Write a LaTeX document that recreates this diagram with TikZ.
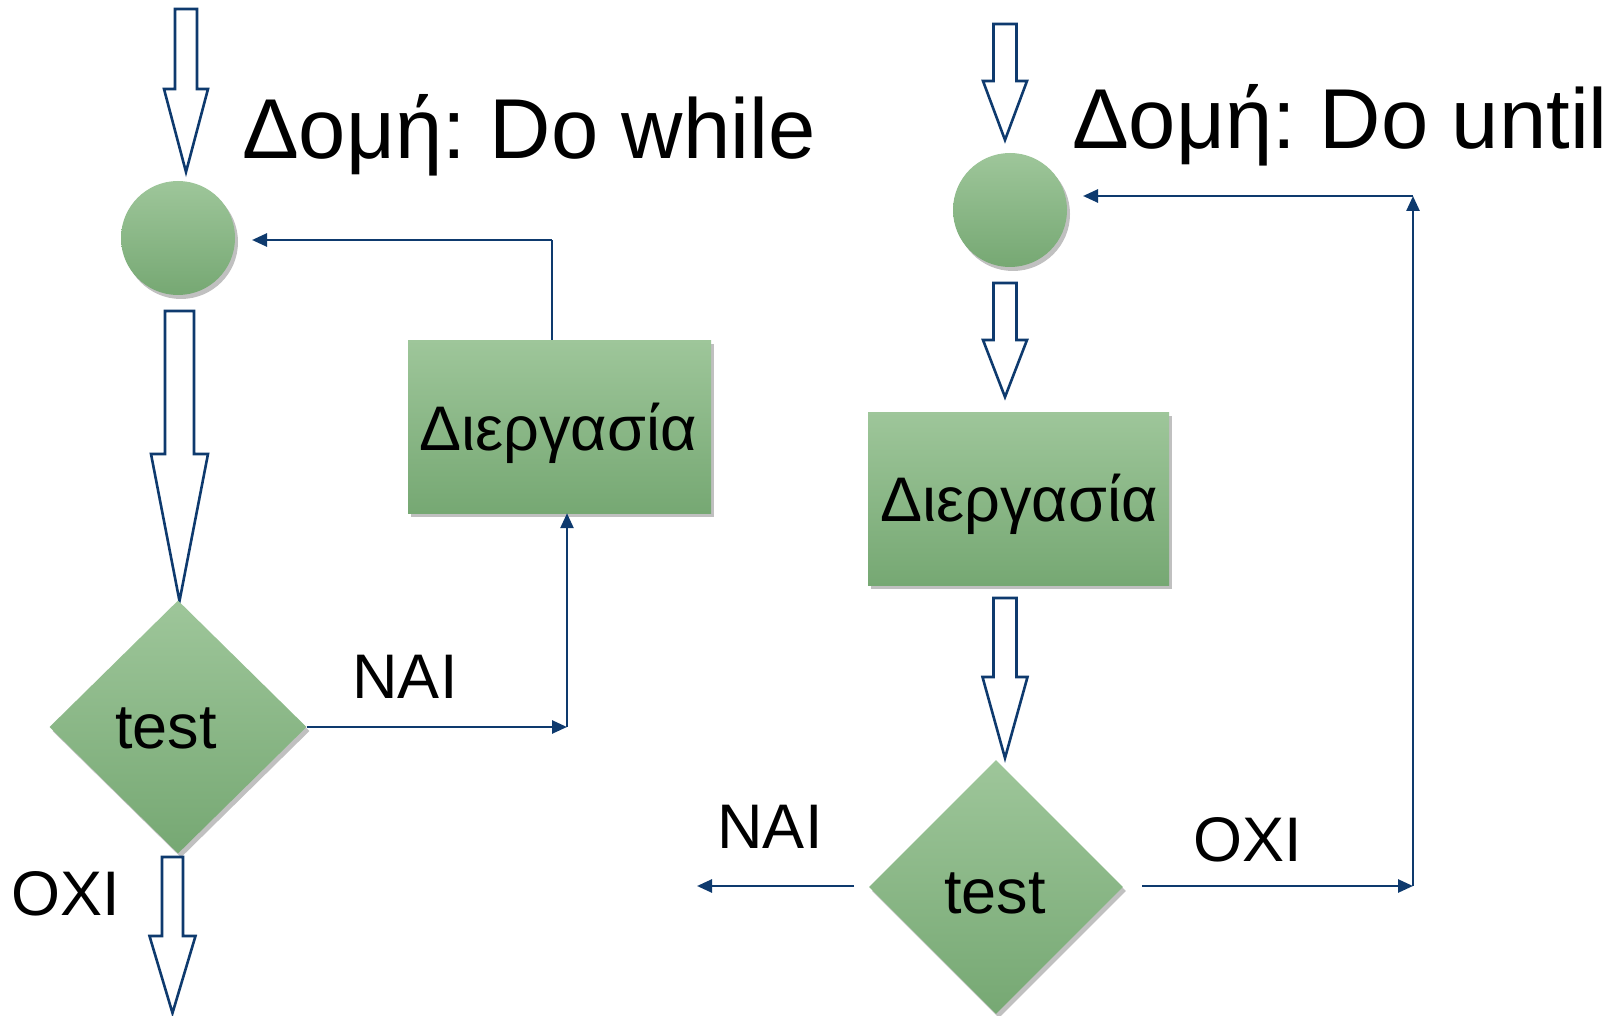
\documentclass[tikz,border=0pt]{standalone}
\usepackage{fontspec}
\setmainfont{Liberation Sans}
\frenchspacing
\usetikzlibrary{shapes.geometric,arrows.meta,shadows}
\definecolor{navy}{RGB}{14,58,110}
\definecolor{gtop}{RGB}{158,198,154}
\definecolor{gbot}{RGB}{118,168,115}
\newcommand{\blkarrow}[7]{% name, x, ytop, yshoulder, ytip, shaft half, head half
  \draw[blockarrow] (#2-#6,#3) -- (#2+#6,#3) -- (#2+#6,#4) -- (#2+#7,#4) -- (#2,#5) -- (#2-#7,#4) -- (#2-#6,#4) -- cycle;
  \coordinate (#1) at (#2,#5);}
\tikzset{
  greenshape/.style={top color=gtop, bottom color=gbot, draw=none,
    drop shadow={shadow xshift=3pt, shadow yshift=-4pt, opacity=0.35, fill=black!70}},
  blockarrow/.style={draw=navy, line width=2.6pt, fill=white, line join=miter},
  conn/.style={draw=navy, line width=2.6pt, -{Triangle[length=15pt,width=13pt]}},
  plain/.style={draw=navy, line width=2.6pt},
  big/.style={font=\fontsize{85}{100}\selectfont, inner sep=0pt, anchor=base west},
  lbl/.style={font=\fontsize{63}{75}\selectfont, inner sep=0pt, anchor=base},
}
\begin{document}
\begin{tikzpicture}[x=1pt,y=-1pt]
\fill[white] (0,0) rectangle (1617,1016);
\useasboundingbox (0,0) rectangle (1617,1016);

% ---------- Left: Do while ----------
\blkarrow{aL1}{186}{9}{89}{172}{11}{22}
\node[big] (titleL) at (242,159) {Δομή: Do while};
\node[greenshape, circle, minimum size=114pt, inner sep=0pt] (circL) at (178,238) {};
\blkarrow{aL2}{179.5}{311}{454}{601}{14.5}{28.5}
\node[greenshape, diamond, minimum width=257pt, minimum height=253pt, inner sep=0pt] (dL) at (178,727) {};
\node[lbl] (testL) at (166,748) {test};
\node[greenshape, rectangle, minimum width=303pt, minimum height=173pt, inner sep=0pt] (boxL) at (559.5,426.5) {};
\node[lbl] (procL) at (558,450) {Διεργασία};
\node[lbl] (naiL) at (405,698) {ΝΑΙ};
\node[lbl] (oxiL) at (66,915) {ΟΧΙ};
\blkarrow{aL3}{172.5}{857}{936}{1013}{10.5}{23}

\coordinate (cL1) at (567,727);
\coordinate (cL2) at (552,240);
\coordinate (cL3) at (252,240);
\draw[conn] (dL.east) -- (cL1);
\draw[conn] (cL1) -- (cL1 |- boxL.south);
\draw[plain] (boxL.north -| cL2) -- (cL2);
\draw[conn] (cL2) -- (cL3);

% ---------- Right: Do until ----------
\blkarrow{aR1}{1005}{24}{81}{140}{11.5}{22}
\node[big] (titleR) at (1072,149) {Δομή: Do until};
\node[greenshape, circle, minimum size=114pt, inner sep=0pt] (circR) at (1010,210) {};
\blkarrow{aR2}{1005}{283}{340}{397}{11.5}{22}
\node[greenshape, rectangle, minimum width=301pt, minimum height=173pt, inner sep=0pt] (boxR) at (1018.5,498.5) {};
\node[lbl] (procR) at (1019,521) {Διεργασία};
\blkarrow{aR3}{1005}{598}{677}{758}{11.5}{22.5}
\node[greenshape, diamond, minimum width=254pt, minimum height=254pt, inner sep=0pt] (dR) at (996,887) {};
\node[lbl] (testR) at (995,913) {test};
\node[lbl] (naiR) at (770,848) {ΝΑΙ};
\node[lbl] (oxiR) at (1248,861) {ΟΧΙ};

\coordinate (cR0) at (854,886);
\coordinate (cR1) at (697,886);
\coordinate (cR4) at (1142,886);
\coordinate (cR2) at (1413,886);
\coordinate (cR3) at (1413,196);
\coordinate (cR5) at (1083,196);
\draw[conn] (cR0) -- (cR1);
\draw[conn] (cR4) -- (cR2);
\draw[conn] (cR2) -- (cR3);
\draw[conn] (cR3) -- (cR5);
\end{tikzpicture}
\end{document}
